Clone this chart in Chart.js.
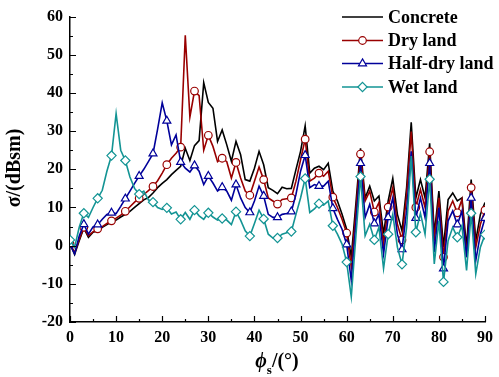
<!DOCTYPE html>
<html><head><meta charset="utf-8">
<script src="https://cdn.jsdelivr.net/npm/chart.js@4.4.0/dist/chart.umd.min.js"></script>
<style>html,body{margin:0;padding:0;background:#fff;overflow:hidden}#wrap{width:499px;height:377px;position:relative}</style>
</head><body><div id="wrap"><canvas id="c" width="499" height="377"></canvas></div>
<script>
const angles = [0,1,2,3,4,5,6,7,8,9,10,11,12,13,14,15,16,17,18,19,20,21,22,23,24,25,26,27,28,29,30,31,32,33,34,35,36,37,38,39,40,41,42,43,44,45,46,47,48,49,50,51,52,53,54,55,56,57,58,59,60,61,62,63,64,65,66,67,68,69,70,71,72,73,74,75,76,77,78,79,80,81,82,83,84,85,86,87,88,89,90];
const concrete = [0.6,-2.3,1.3,4.6,2.2,3.5,3.9,4.8,5.5,6.2,6.7,7.5,8.2,9.0,10.0,11.0,12.0,12.6,13.8,15.2,16.3,17.3,18.6,19.7,20.8,25.5,22.3,26.2,27.5,42.7,37.5,36.0,27.3,30.3,26.4,22.1,27.3,23.8,17.3,16.9,20.3,24.7,21.2,15.2,14.5,13.6,15.3,14.9,15.0,19.9,24.7,31.4,19.0,20.3,20.8,19.9,21.6,14.3,11.7,8.2,4.3,-3.0,11.0,25.5,12.5,15.6,11.7,13.0,3.0,11.7,17.6,8.2,3.9,15.2,32.3,12.5,17.3,12.5,26.8,3.0,14.3,-0.4,12.1,13.8,11.7,12.5,-0.4,17.3,1.3,8.2,11.3];
const dryLand = [0.5,-1.8,1.6,4.8,2.6,3.6,4.4,5.0,5.8,6.5,7.2,8.0,9.0,10.2,11.4,12.4,13.4,14.4,15.5,17.0,19.0,21.2,22.9,24.2,25.8,55.1,33.7,40.5,39.3,25.0,28.9,26.0,22.0,22.9,22.0,17.7,21.8,17.7,14.3,13.2,16.9,20.6,17.3,12.5,11.7,10.9,12.1,12.3,12.5,16.9,22.5,27.9,16.9,17.7,19.0,18.2,19.5,12.7,10.0,6.9,3.3,-5.6,9.0,24.0,11.7,14.3,8.8,11.3,0.4,10.1,15.2,5.6,1.5,13.4,29.9,10.0,14.7,10.0,24.6,1.3,12.5,-3.0,9.1,11.7,8.6,12.1,-3.0,15.2,-0.4,5.6,9.3];
const halfDryLand = [0.3,-2.2,2.5,5.6,3.0,4.9,5.5,6.9,8.2,8.6,8.4,10.3,12.3,14.3,16.3,18.2,20.0,22.0,24.1,30.5,37.4,32.7,26.4,29.0,21.9,20.3,19.3,21.0,19.5,16.0,18.2,16.4,14.3,15.3,14.3,11.9,16.0,12.5,10.0,8.7,11.7,15.6,13.0,8.2,7.4,7.4,8.2,8.4,8.9,13.4,19.5,23.7,15.2,16.0,15.6,15.6,16.9,9.8,6.9,4.3,0.3,-9.1,6.0,21.6,7.4,10.8,5.8,8.2,-2.2,7.4,12.5,3.0,-1.0,9.1,24.7,7.2,12.5,7.4,21.6,-1.7,10.0,-6.0,6.5,9.1,5.5,9.1,-3.0,12.5,-3.9,3.0,7.2];
const wetLand = [1.5,-0.4,4.8,8.5,7.4,10.0,12.4,14.5,19.5,23.6,34.6,25.0,22.3,18.0,15.0,13.5,14.3,12.0,11.4,10.0,9.5,9.9,8.3,8.8,6.9,8.7,6.9,9.3,7.8,6.9,8.6,7.5,6.7,7.1,6.7,5.5,8.9,6.7,3.9,2.5,5.8,9.3,7.0,3.0,2.0,2.0,3.0,3.4,3.7,8.2,12.5,17.6,8.7,9.6,11.0,10.6,11.7,5.2,3.0,0.4,-4.3,-13.4,2.5,18.1,2.6,5.6,1.5,4.8,-6.0,3.0,8.2,-0.4,-4.9,4.8,23.5,3.5,8.5,3.0,17.4,-4.8,6.5,-9.5,1.3,4.8,2.2,5.2,-6.5,8.5,-7.4,-0.4,2.9];
const seriesNames = ['Concrete','Dry land','Half-dry land','Wet land'];
const xTicks = [0,10,20,30,40,50,60,70,80,90];
const yTicks = [-20,-10,0,10,20,30,40,50,60];

const FONT = '"Liberation Serif","Times New Roman","DejaVu Serif",serif';
const toXY = arr => arr.map((v,i)=>({x:angles[i], y:v}));
const markEvery3 = r => c => (c.dataIndex % 3 === 0 ? r : 0);

const deco = {
  id:'deco',
  afterDraw(chart){
    const {ctx, chartArea:a, scales:{x,y}} = chart;
    ctx.save();
    ctx.strokeStyle='#000'; ctx.lineWidth=1.2;
    ctx.beginPath();
    for(let v=xTicks[0]; v<=xTicks[xTicks.length-1]; v+=5){
      const px=Math.round(x.getPixelForValue(v))+0.5, L=(v%10===0)?6:3;
      ctx.moveTo(px,a.bottom); ctx.lineTo(px,a.bottom-L);
    }
    for(let v=yTicks[0]; v<=yTicks[yTicks.length-1]; v+=5){
      const py=Math.round(y.getPixelForValue(v))+0.5, L=(v%10===0)?6:3;
      ctx.moveTo(a.left,py); ctx.lineTo(a.left+L,py);
    }
    ctx.stroke();
    // y title
    ctx.fillStyle='#000';
    ctx.save();
    ctx.translate(20,168); ctx.rotate(-Math.PI/2);
    ctx.font='bold 20px '+FONT; ctx.textAlign='center'; ctx.textBaseline='alphabetic';
    ctx.fillText('σ/(dBsm)',0,0);
    ctx.restore();
    // x title
    ctx.textBaseline='alphabetic'; ctx.textAlign='left';
    const f1='italic bold 20px '+FONT, f2='bold 13px '+FONT, f3='bold 20px '+FONT;
    ctx.font=f1; const w1=ctx.measureText('ϕ').width;
    ctx.font=f2; const w2=ctx.measureText('s').width;
    ctx.font=f3; const w3=ctx.measureText('/(°)').width;
    let sx=277-(w1+w2+w3)/2, by=367;
    ctx.font=f1; ctx.fillText('ϕ',sx,by);
    ctx.font=f2; ctx.fillText('s',sx+w1,by+7);
    ctx.font=f3; ctx.fillText('/(°)',sx+w1+w2,by);
    // legend
    const rows=[17,40.5,63.5,87];
    chart.data.datasets.forEach((ds,i)=>{
      const yy=rows[i];
      ctx.strokeStyle=ds.borderColor; ctx.lineWidth=1.6;
      ctx.beginPath(); ctx.moveTo(342,yy); ctx.lineTo(383,yy); ctx.stroke();
      if(ds.legendMarker){
        ctx.fillStyle='#fff'; ctx.strokeStyle=ds.borderColor; ctx.lineWidth=1.2;
        Chart.helpers.drawPoint(ctx,{pointStyle:ds.pointStyle,radius:ds.legendMarker,rotation:0,borderWidth:1.2},362.5,yy);
      }
      ctx.fillStyle='#000'; ctx.font='bold 18px '+FONT; ctx.textBaseline='middle'; ctx.textAlign='left';
      ctx.fillText(ds.label,388,yy+1);
    });
    ctx.restore();
  }
};

new Chart(document.getElementById('c'),{
  type:'line',
  data:{datasets:[
    {label:seriesNames[0],data:toXY(concrete),borderColor:'#000000',borderWidth:1.6,pointRadius:0,order:4},
    {label:seriesNames[1],data:toXY(dryLand),borderColor:'#990000',borderWidth:1.6,pointStyle:'circle',pointRadius:markEvery3(3.8),pointBackgroundColor:'#fff',pointBorderColor:'#990000',pointBorderWidth:1.2,legendMarker:3.8,order:3},
    {label:seriesNames[2],data:toXY(halfDryLand),borderColor:'#00009a',borderWidth:1.6,pointStyle:'triangle',pointRadius:markEvery3(4.6),pointBackgroundColor:'#fff',pointBorderColor:'#00009a',pointBorderWidth:1.2,legendMarker:4.6,order:2},
    {label:seriesNames[3],data:toXY(wetLand),borderColor:'#139494',borderWidth:1.6,pointStyle:'rectRot',pointRadius:markEvery3(4.6),pointBackgroundColor:'#fff',pointBorderColor:'#139494',pointBorderWidth:1.2,legendMarker:4.6,order:1}
  ]},
  options:{
    responsive:false, animation:false, devicePixelRatio:1,
    layout:{padding:{top:14,right:12,left:0,bottom:0}},
    elements:{line:{tension:0}},
    plugins:{legend:{display:false},tooltip:{enabled:false}},
    scales:{
      x:{type:'linear',min:0,max:90,
        afterBuildTicks:s=>{s.ticks=xTicks.map(v=>({value:v}));},
        afterFit:s=>{s.height=55;},
        ticks:{color:'#000',font:{family:FONT,size:16,weight:'bold'},padding:6,maxRotation:0,autoSkip:false},
        grid:{display:false,drawTicks:false},
        border:{display:true,color:'#000',width:1.5}},
      y:{type:'linear',min:-20,max:60,
        afterBuildTicks:s=>{s.ticks=yTicks.map(v=>({value:v}));},
        afterFit:s=>{s.width=70;},
        ticks:{color:'#000',font:{family:FONT,size:16,weight:'bold'},padding:7,autoSkip:false},
        grid:{display:false,drawTicks:false},
        border:{display:true,color:'#000',width:1.5}}
    }
  },
  plugins:[deco]
});
</script></body></html>
